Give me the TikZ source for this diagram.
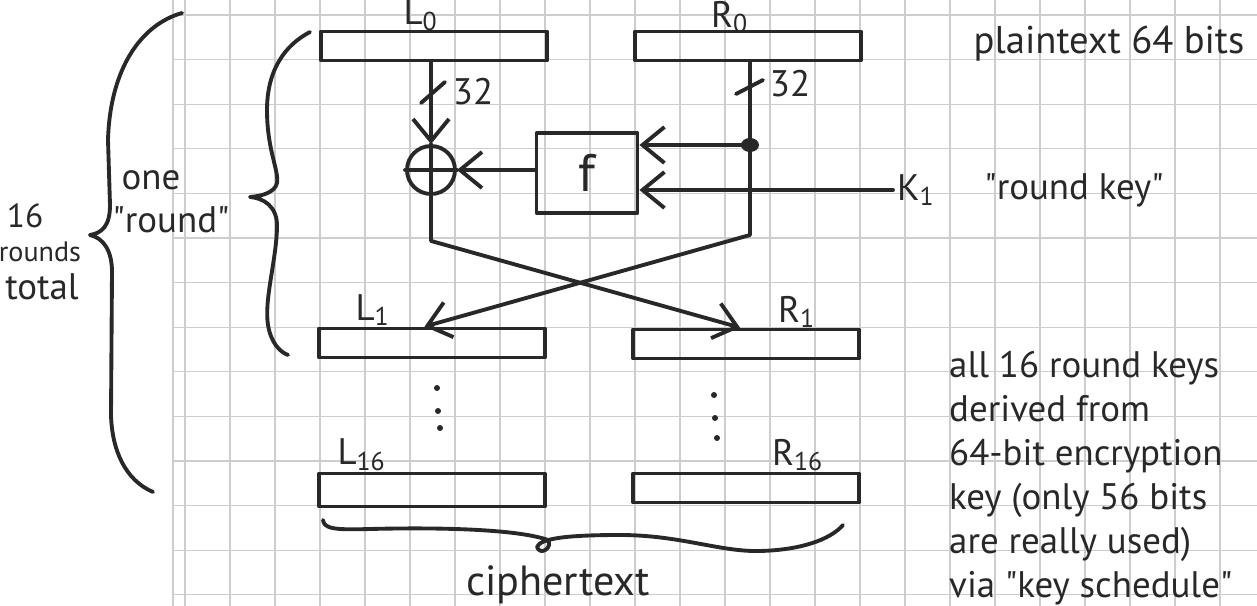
\documentclass[tikz,border=0pt]{standalone}
\usepackage{fontspec}
\setmainfont{PT Sans}
\usepackage{tikz}
\usetikzlibrary{positioning, calc, arrows.meta}
\definecolor{inkgray}{RGB}{40,40,40}
\definecolor{gridgray}{RGB}{205,205,205}
\newcommand{\qq}{\textquotedbl}

\begin{document}
\begin{tikzpicture}[x=0.1mm, y=-0.1mm,
  ink/.style={inkgray, line width=1.1pt, line cap=round, line join=round},
  reg/.style={ink, draw, minimum width=22.6mm, minimum height=2.9mm, inner sep=0pt},
  arr/.style={ink, -{Straight Barb[length=2.2mm, width=3.6mm]}},
  hand/.style={inkgray, font=\fontsize{10.5}{12.5}\selectfont, inner sep=1pt},
  gridline/.style={gridgray, line width=0.35pt}]
  \useasboundingbox (0,0) rectangle (1257,606);
  \fill[white] (0,0) rectangle (1257,606);
  % graph paper
  \draw[gridline] (173,0) -- (173,606);
  \foreach \k in {0,...,24} \draw[gridline] ({185+45*\k},0) -- ({185+45*\k},606);
  \foreach \k in {0,...,13} \draw[gridline] (173,{15+44.6*\k}) -- (1257,{15+44.6*\k});

  % registers
  \node[reg] (l0) at (434,46) {};
  \node[reg] (r0) at (748,46) {};
  \node[reg] (l1) at (432,343) {};
  \node[reg] (r1) at (746,344) {};
  \node[reg, minimum height=3.3mm] (l16) at (432,490) {};
  \node[reg] (r16) at (746,488) {};
  \node[hand] (l0lab) at (421,15) {L\textsubscript{0}};
  \node[hand] (r0lab) at (730,17) {R\textsubscript{0}};
  \node[hand] (l1lab) at (373,310) {L\textsubscript{1}};
  \node[hand] (r1lab) at (797,312) {R\textsubscript{1}};
  \node[hand] (l16lab) at (362,455) {L\textsubscript{16}};
  \node[hand] (r16lab) at (798,455) {R\textsubscript{16}};

  % round function
  \node[ink, draw, circle, minimum size=4.8mm, inner sep=0pt] (xor) at (431,170) {};
  \draw[ink] (xor.north) -- (xor.south) (xor.west) -- (xor.east);
  \node[ink, draw, minimum width=10.1mm, minimum height=8mm, font=\fontsize{15}{15}\selectfont] (fbox) at (587,173) {f};
  \coordinate (rdot) at (750,145);
  \coordinate (kin) at (893,190);
  \node[hand, anchor=west] (k1) at (kin) {K\textsubscript{1}};

  \draw[arr] (xor.north |- l0.south) -- (xor.north);
  \draw[ink] (421,103) -- (445,82);
  \node[hand] (w32l) at (473,92) {32};
  \draw[ink] (736,94) -- (763,80);
  \node[hand] (w32r) at (790,84) {32};
  \fill[inkgray] (rdot) ellipse[x radius=9, y radius=7];
  \draw[arr] (rdot) -- (rdot -| fbox.east);
  \draw[arr] (kin) -- (kin -| fbox.east);
  \draw[arr] (fbox.west |- xor) -- (xor.east);

  % swap halves
  \draw[arr] (xor.south) -- ++(0,45) -- ([xshift=-0.6mm]r1.north);
  \draw[arr] (rdot |- r0.south) -- (750,235) -- ([xshift=-0.75mm]l1.north);

  % remaining rounds
  \foreach \x/\y in {437/388, 438/411, 440/428, 714/395, 715/418, 717/438}
    \fill[inkgray] (\x,\y) circle[radius=3];

  % braces
  \draw[ink] (182,13) .. controls (140,25) and (110,70) .. (108,140) -- (110,205)
    .. controls (110,226) and (102,233) .. (90,235) .. controls (103,238) and (112,250) .. (112,272)
    -- (111,415) .. controls (112,450) and (125,480) .. (153,492);
  \draw[ink] (310,32) .. controls (285,45) and (267,70) .. (267,110)
    .. controls (267,150) and (279,170) .. (277,183) .. controls (275,192) and (263,196) .. (250,197)
    .. controls (263,198) and (278,206) .. (277,228) .. controls (276,262) and (264,300) .. (268,325)
    .. controls (271,343) and (280,352) .. (288,355);
  \draw[ink] (323,520) .. controls (324,529) and (335,530) .. (370,529)
    .. controls (450,527) and (520,530) .. (548,540) .. controls (553,548) and (540,556) .. (537,547)
    .. controls (540,538) and (570,535) .. (620,535) .. controls (680,535) and (720,552) .. (760,551)
    .. controls (800,550) and (830,540) .. (843,525);

  % notes
  \node[hand] (one) at (151,180) {one};
  \node[hand] (round) at (171,220) {\qq round\qq};
  \node[hand, font=\fontsize{9.5}{10}\selectfont] (n16) at (25,216) {16};
  \node[hand, font=\fontsize{8}{9}\selectfont] (nrounds) at (40,252) {rounds};
  \node[hand] (ntotal) at (42,287) {total};
  \node[hand, font=\fontsize{11}{12}\selectfont] (plain) at (1109,44) {plaintext 64 bits};
  \node[hand] (rkey) at (1074,190) {\qq round key\qq};
  \node[hand, font=\fontsize{12}{13}\selectfont] (cipher) at (558,585) {ciphertext};
  \node[hand, align=left, anchor=north west] (sched) at (945,347)
    {all 16 round keys\\derived from\\64-bit encryption\\key (only 56 bits\\are really used)\\via \qq key schedule\qq};
\end{tikzpicture}
\end{document}
